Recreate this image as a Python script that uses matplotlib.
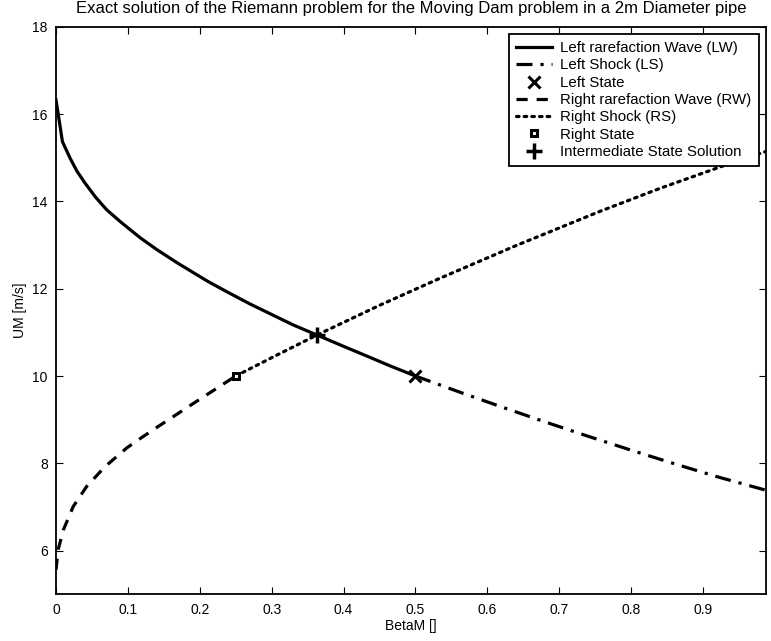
import numpy as np
import matplotlib.pyplot as plt

plt.rcParams['font.family'] = ['Liberation Sans', 'DejaVu Sans']

# values
lw_x = [0.0, 0.009, 0.02, 0.029, 0.04, 0.055, 0.0705, 0.09, 0.117, 0.14, 0.168,
        0.19, 0.21, 0.24, 0.27, 0.30, 0.33, 0.363, 0.40, 0.432, 0.465, 0.50]
lw_y = [16.33, 15.37, 14.98, 14.70, 14.43, 14.10, 13.81, 13.53, 13.17, 12.90, 12.60,
        12.38, 12.18, 11.91, 11.65, 11.41, 11.17, 10.94, 10.68, 10.46, 10.23, 10.0]

ls_x = [0.50, 0.56, 0.62, 0.68, 0.74, 0.80, 0.86, 0.92, 0.988]
ls_y = [10.0, 9.64, 9.29, 8.95, 8.62, 8.30, 7.99, 7.69, 7.38]

rw_x = [0.0, 0.003, 0.0102, 0.024, 0.0427, 0.068, 0.0983, 0.12, 0.14, 0.165, 0.19, 0.22, 0.25]
rw_y = [5.56, 6.02, 6.47, 7.01, 7.47, 7.92, 8.35, 8.60, 8.82, 9.09, 9.36, 9.68, 10.0]

rs_x = [0.25, 0.30, 0.363, 0.45, 0.534, 0.64, 0.756, 0.84, 0.9235, 0.988]
rs_y = [10.0, 10.42, 10.94, 11.62, 12.24, 12.99, 13.77, 14.30, 14.79, 15.15]

left_state = (0.5, 10.0)
right_state = (0.25, 10.0)
mid_state = (0.363, 10.94)

fig = plt.figure(figsize=(7.71, 6.41), dpi=100)
ax = fig.add_axes([0.0726, 0.073, 0.9209, 0.885])

ax.plot(lw_x, lw_y, '-k', lw=2.3, label='Left rarefaction Wave (LW)')
ax.plot(ls_x, ls_y, color='k', lw=2.3, dashes=[5, 2.5, 1, 2.5],
        label='Left Shock (LS)')
ax.plot(*left_state, 'x', color='k', ms=9, mew=2.2, label='Left State')
ax.plot(rw_x, rw_y, color='k', lw=2.3, dashes=[3.5, 2.8],
        label='Right rarefaction Wave (RW)')
ax.plot(rs_x, rs_y, color='k', lw=2.3, dashes=[0.8, 1.6], dash_capstyle='round',
        label='Right Shock (RS)')
ax.plot(*right_state, 's', mfc='white', mec='k', ms=5, mew=2.2, label='Right State')
ax.plot(*mid_state, '+', color='k', ms=12, mew=2.5, label='Intermediate State Solution')

ax.set_xlim(0, 0.9875)
ax.set_ylim(5, 18)
ax.set_xticks(np.arange(0, 0.95, 0.1))
ax.set_xticklabels(['0', '0.1', '0.2', '0.3', '0.4', '0.5', '0.6', '0.7', '0.8', '0.9'])
ax.set_yticks(range(6, 19, 2))
ax.tick_params(direction='in', length=5, width=0.8, top=True, right=True,
               labelsize=10, pad=6)
for s in ax.spines.values():
    s.set_linewidth(1.3)

ax.set_xlabel('BetaM []', fontsize=10, labelpad=2)
ax.set_ylabel('UM [m/s]', fontsize=10, labelpad=4)
ax.set_title('Exact solution of the Riemann problem for the Moving Dam problem in a 2m Diameter pipe',
             fontsize=12, pad=10)

leg = ax.legend(loc='upper right', bbox_to_anchor=(1, 1), fontsize=10.8, frameon=True,
                fancybox=False, framealpha=1, borderaxespad=0.45, labelspacing=0.22,
                handlelength=2.4, handletextpad=0.55, borderpad=0.5)
leg.get_frame().set_edgecolor('k')
leg.get_frame().set_linewidth(1.3)

fig.savefig('out.png', dpi=100)
